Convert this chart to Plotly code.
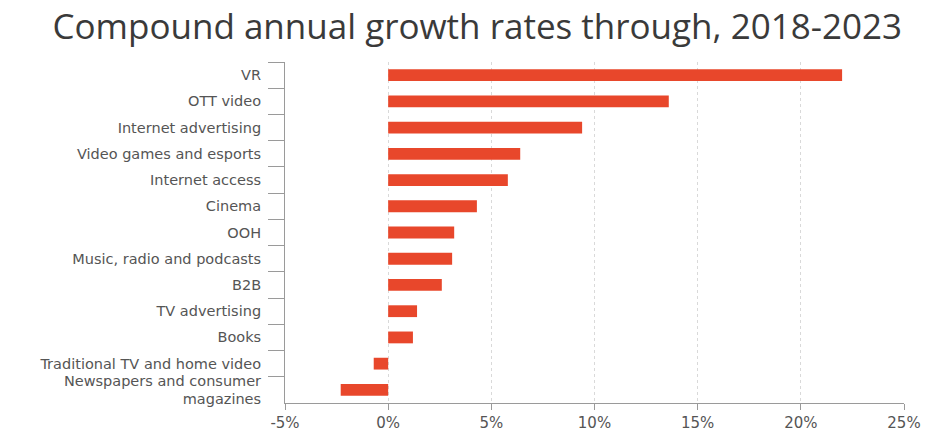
import plotly.graph_objects as go

# Compound annual growth rate by segment, 2018-2023 (%)
segments = [
    "VR",
    "OTT video",
    "Internet advertising",
    "Video games and esports",
    "Internet access",
    "Cinema",
    "OOH",
    "Music, radio and podcasts",
    "B2B",
    "TV advertising",
    "Books",
    "Traditional TV and home video",
    "Newspapers and consumer<br>magazines",
]
cagr = [22.0, 13.6, 9.4, 6.4, 5.8, 4.3, 3.2, 3.1, 2.6, 1.4, 1.2, -0.7, -2.3]

x_ticks = [-5, 0, 5, 10, 15, 20, 25]
x_tick_labels = ["-5%", "0%", "5%", "10%", "15%", "20%", "25%"]

BAR_COLOR = "#E8472B"
AXIS_COLOR = "#9a9a9a"
LABEL_COLOR = "#555555"

fig = go.Figure(
    go.Bar(
        x=cagr,
        y=segments,
        orientation="h",
        marker=dict(color=BAR_COLOR, line=dict(width=0)),
        width=0.45,
        hoverinfo="x+y",
    )
)

fig.update_layout(
    width=925,
    height=431,
    margin=dict(l=285, r=21, t=62, b=28, autoexpand=False),
    paper_bgcolor="white",
    plot_bgcolor="white",
    showlegend=False,
    title=dict(
        text="Compound annual growth rates through, 2018-2023",
        x=0.516,
        xanchor="center",
        y=0.938,
        yanchor="middle",
        font=dict(family="Open Sans", size=35, color="#3a3a3a"),
    ),
)

fig.update_xaxes(
    range=[-5, 25],
    tickvals=x_ticks,
    ticktext=x_tick_labels,
    showgrid=True,
    gridcolor="#d9d9d9",
    griddash="dot",
    gridwidth=1,
    zeroline=False,
    showline=True,
    linecolor=AXIS_COLOR,
    linewidth=1,
    ticks="outside",
    ticklen=6,
    tickcolor=AXIS_COLOR,
    tickfont=dict(family="DejaVu Sans", size=15, color=LABEL_COLOR),
    automargin=False,
    fixedrange=True,
)

fig.update_yaxes(
    type="category",
    categoryorder="array",
    categoryarray=segments,
    autorange="reversed",
    showgrid=False,
    zeroline=False,
    showline=True,
    linecolor=AXIS_COLOR,
    linewidth=1,
    ticks="outside",
    tickson="boundaries",
    ticklen=16,
    tickcolor=AXIS_COLOR,
    ticklabelstandoff=20,
    tickfont=dict(family="DejaVu Sans", size=14.5, color=LABEL_COLOR),
    automargin=False,
    fixedrange=True,
)

fig.write_html("out.html")
